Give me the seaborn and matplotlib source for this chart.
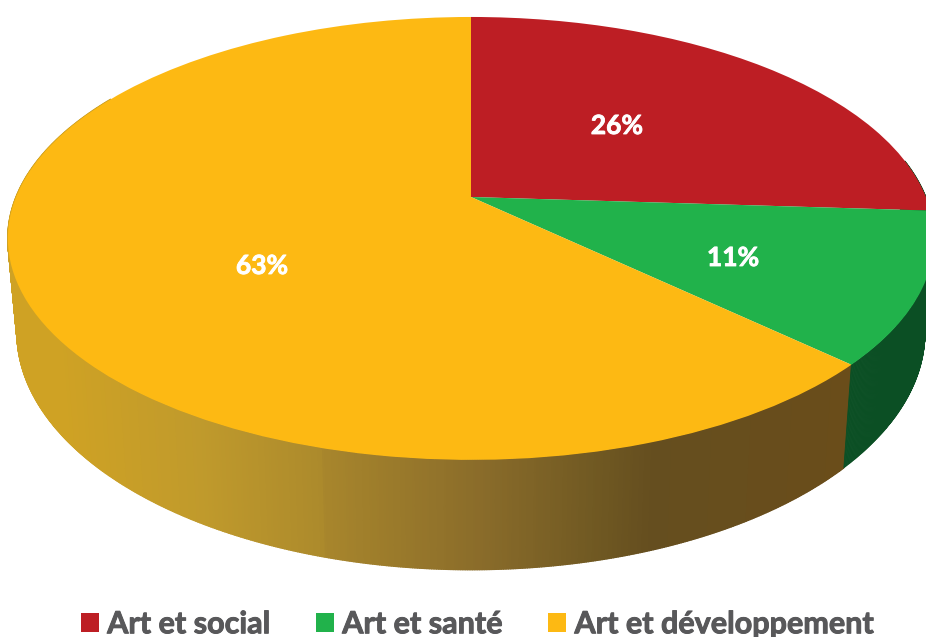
import numpy as np
import seaborn as sns
import matplotlib.pyplot as plt
import matplotlib.patheffects as pe
from matplotlib.collections import PolyCollection
from matplotlib.colors import LinearSegmentedColormap
from matplotlib.transforms import Transform

categories = ['Art et social', 'Art et santé', 'Art et développement']
shares = [26, 11, 63]
pie_colors = ['#bd1e24', '#21b24b', '#fdb913']
green_wall = '#0b4f24'
wall_xs = [0, 60, 200, 322, 323, 480, 600, 650, 851]
wall_cols = ['#cfa224', '#cfa224', '#c09a2c', '#ac8a2c', '#a8862c', '#8a6c2a', '#6f5822', '#654e1f', '#6a4d1a']
label_xy = [(617, 126), (733, 258), (262, 266)]

sns.set_theme(style='white')
plt.rcParams['font.family'] = ['Lato', 'DejaVu Sans']


# unit circle -> screen pixels, with a bit of perspective
def project(x, y, cy, rx, ry, k=0.187):
    w = 1 + k * y
    return 471 + rx * x / w, cy - ry * y / w


class TopFace(Transform):
    input_dims = 2
    output_dims = 2

    def transform_non_affine(self, xy):
        xy = np.asarray(xy)
        return np.column_stack(project(xy[:, 0], xy[:, 1], 197, 455, 213.7))


def wall_quads(a0, a1):
    t = np.radians(np.linspace(a0, a1, int(a1 - a0) * 4 + 2))
    x, y = np.sin(t), np.cos(t)
    tx, ty = project(x, y, 197, 455, 213.7)
    bx, by = project(x, y, 288, 446, 229)
    quads = [[(tx[i], ty[i]), (tx[i + 1], ty[i + 1]), (bx[i + 1], by[i + 1]), (bx[i], by[i])]
             for i in range(len(t) - 1)]
    return np.array(quads)


fig, ax = plt.subplots(figsize=(9.26, 6.37), dpi=100)
fig.subplots_adjust(0, 0, 1, 1)

wedges, texts, pcts = ax.pie(shares, colors=sns.color_palette(pie_colors), startangle=90, counterclock=False,
                             autopct='%d%%', pctdistance=0.5, textprops={'zorder': 5},
                             wedgeprops={'edgecolor': 'none', 'linewidth': 0})
ax.set_aspect('auto')
ax.set_xlim(0, 926)
ax.set_ylim(637, 0)
ax.axis('off')

top = TopFace() + ax.transData
for wd in wedges:
    wd.set_transform(top)
    wd.set_zorder(3)
    wd.set_clip_on(False)

for t, pos in zip(pcts, label_xy):
    t.set_transform(ax.transData)
    t.set_position(pos)
    t.set(color='white', fontsize=19, fontweight='bold', ha='center', va='center')
    t.set_path_effects([pe.withStroke(linewidth=0.6, foreground='white')])

# side wall
split = (shares[0] + shares[1]) / sum(shares) * 360
wall_cmap = LinearSegmentedColormap.from_list('wall', list(zip(np.array(wall_xs) / wall_xs[-1], wall_cols)))

q = wall_quads(split, 300)
cols = wall_cmap(np.clip(q[:, :, 0].mean(axis=1) / wall_xs[-1], 0, 1))
ax.add_collection(PolyCollection(q, facecolors=cols, edgecolors=cols, linewidths=1, zorder=1))

q = wall_quads(80, split)
ax.add_collection(PolyCollection(q, facecolors=green_wall, edgecolors=green_wall, linewidths=0.6, zorder=2))

leg = ax.legend(wedges, categories, ncol=3, frameon=False, loc='lower left', bbox_to_anchor=(0.087, -0.002),
                prop={'size': 22, 'weight': 'bold'}, labelcolor='#58585a', handlelength=0.6, handleheight=0.6,
                handletextpad=0.27, columnspacing=1.5, borderpad=0, borderaxespad=0)
for t in leg.get_texts():
    t.set_path_effects([pe.withStroke(linewidth=0.7, foreground='#58585a')])

plt.savefig('out.png', dpi=100)
